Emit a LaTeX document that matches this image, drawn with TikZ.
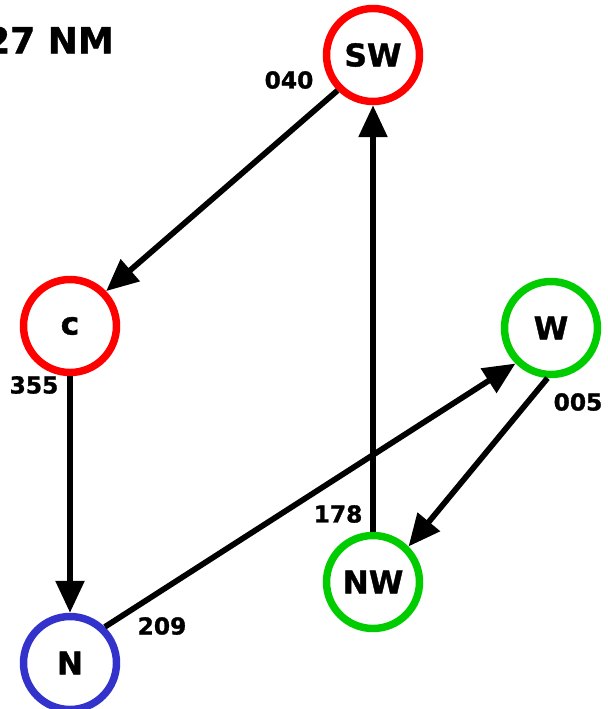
\documentclass[tikz,border=0pt]{standalone}
\usepackage{fontspec}
\setmainfont{DejaVu Sans}
\newfontfamily\heavyfont[FakeBold=1.2]{DejaVu Sans Bold}
\usetikzlibrary{arrows.meta}
\definecolor{wpred}{RGB}{255,0,0}
\definecolor{wpgreen}{RGB}{0,204,0}
\definecolor{wpblue}{RGB}{51,51,204}
\tikzset{
  wpt/.style={circle, draw=#1, line width=5.6pt, minimum size=69.75pt,
    inner sep=0pt, font=\fontsize{23.5}{23.5}\heavyfont},
  hdg/.style={font=\fontsize{17.5}{17.5}\heavyfont, inner sep=0pt},
  leg/.style={line width=4.3pt, -{Triangle[length=24pt,width=21pt]}}
}
\begin{document}
\begin{tikzpicture}[x=0.75pt,y=-0.75pt]
      \useasboundingbox (0,0) rectangle (607,709);
      \draw
        (373,55) node[wpt=wpred] (SW){SW}
        (70,326) node[wpt=wpred] (C){c}
        (551,328) node[wpt=wpgreen] (W){W}
        (373,582) node[wpt=wpgreen] (NW){NW}
        (70,663) node[wpt=wpblue] (N){N};
      \node[anchor=east, inner sep=0pt, font=\fontsize{27}{27}\heavyfont]
        (dist) at (114,40) {27 NM};
      \node[hdg] (h040) at (289,80) {040};
      \node[hdg] (h355) at (34,385) {355};
      \node[hdg] (h005) at (578,402) {005};
      \node[hdg] (h178) at (338,514) {178};
      \node[hdg] (h209) at (162,626) {209};
      \begin{scope}[leg]
        \draw (SW.225) to (C.44);
        \draw (C) to (N);
        \draw (N.46) to (W.225);
        \draw (W.266) to (NW.45);
        \draw (NW) to (SW);
      \end{scope}
    \end{tikzpicture}
\end{document}
